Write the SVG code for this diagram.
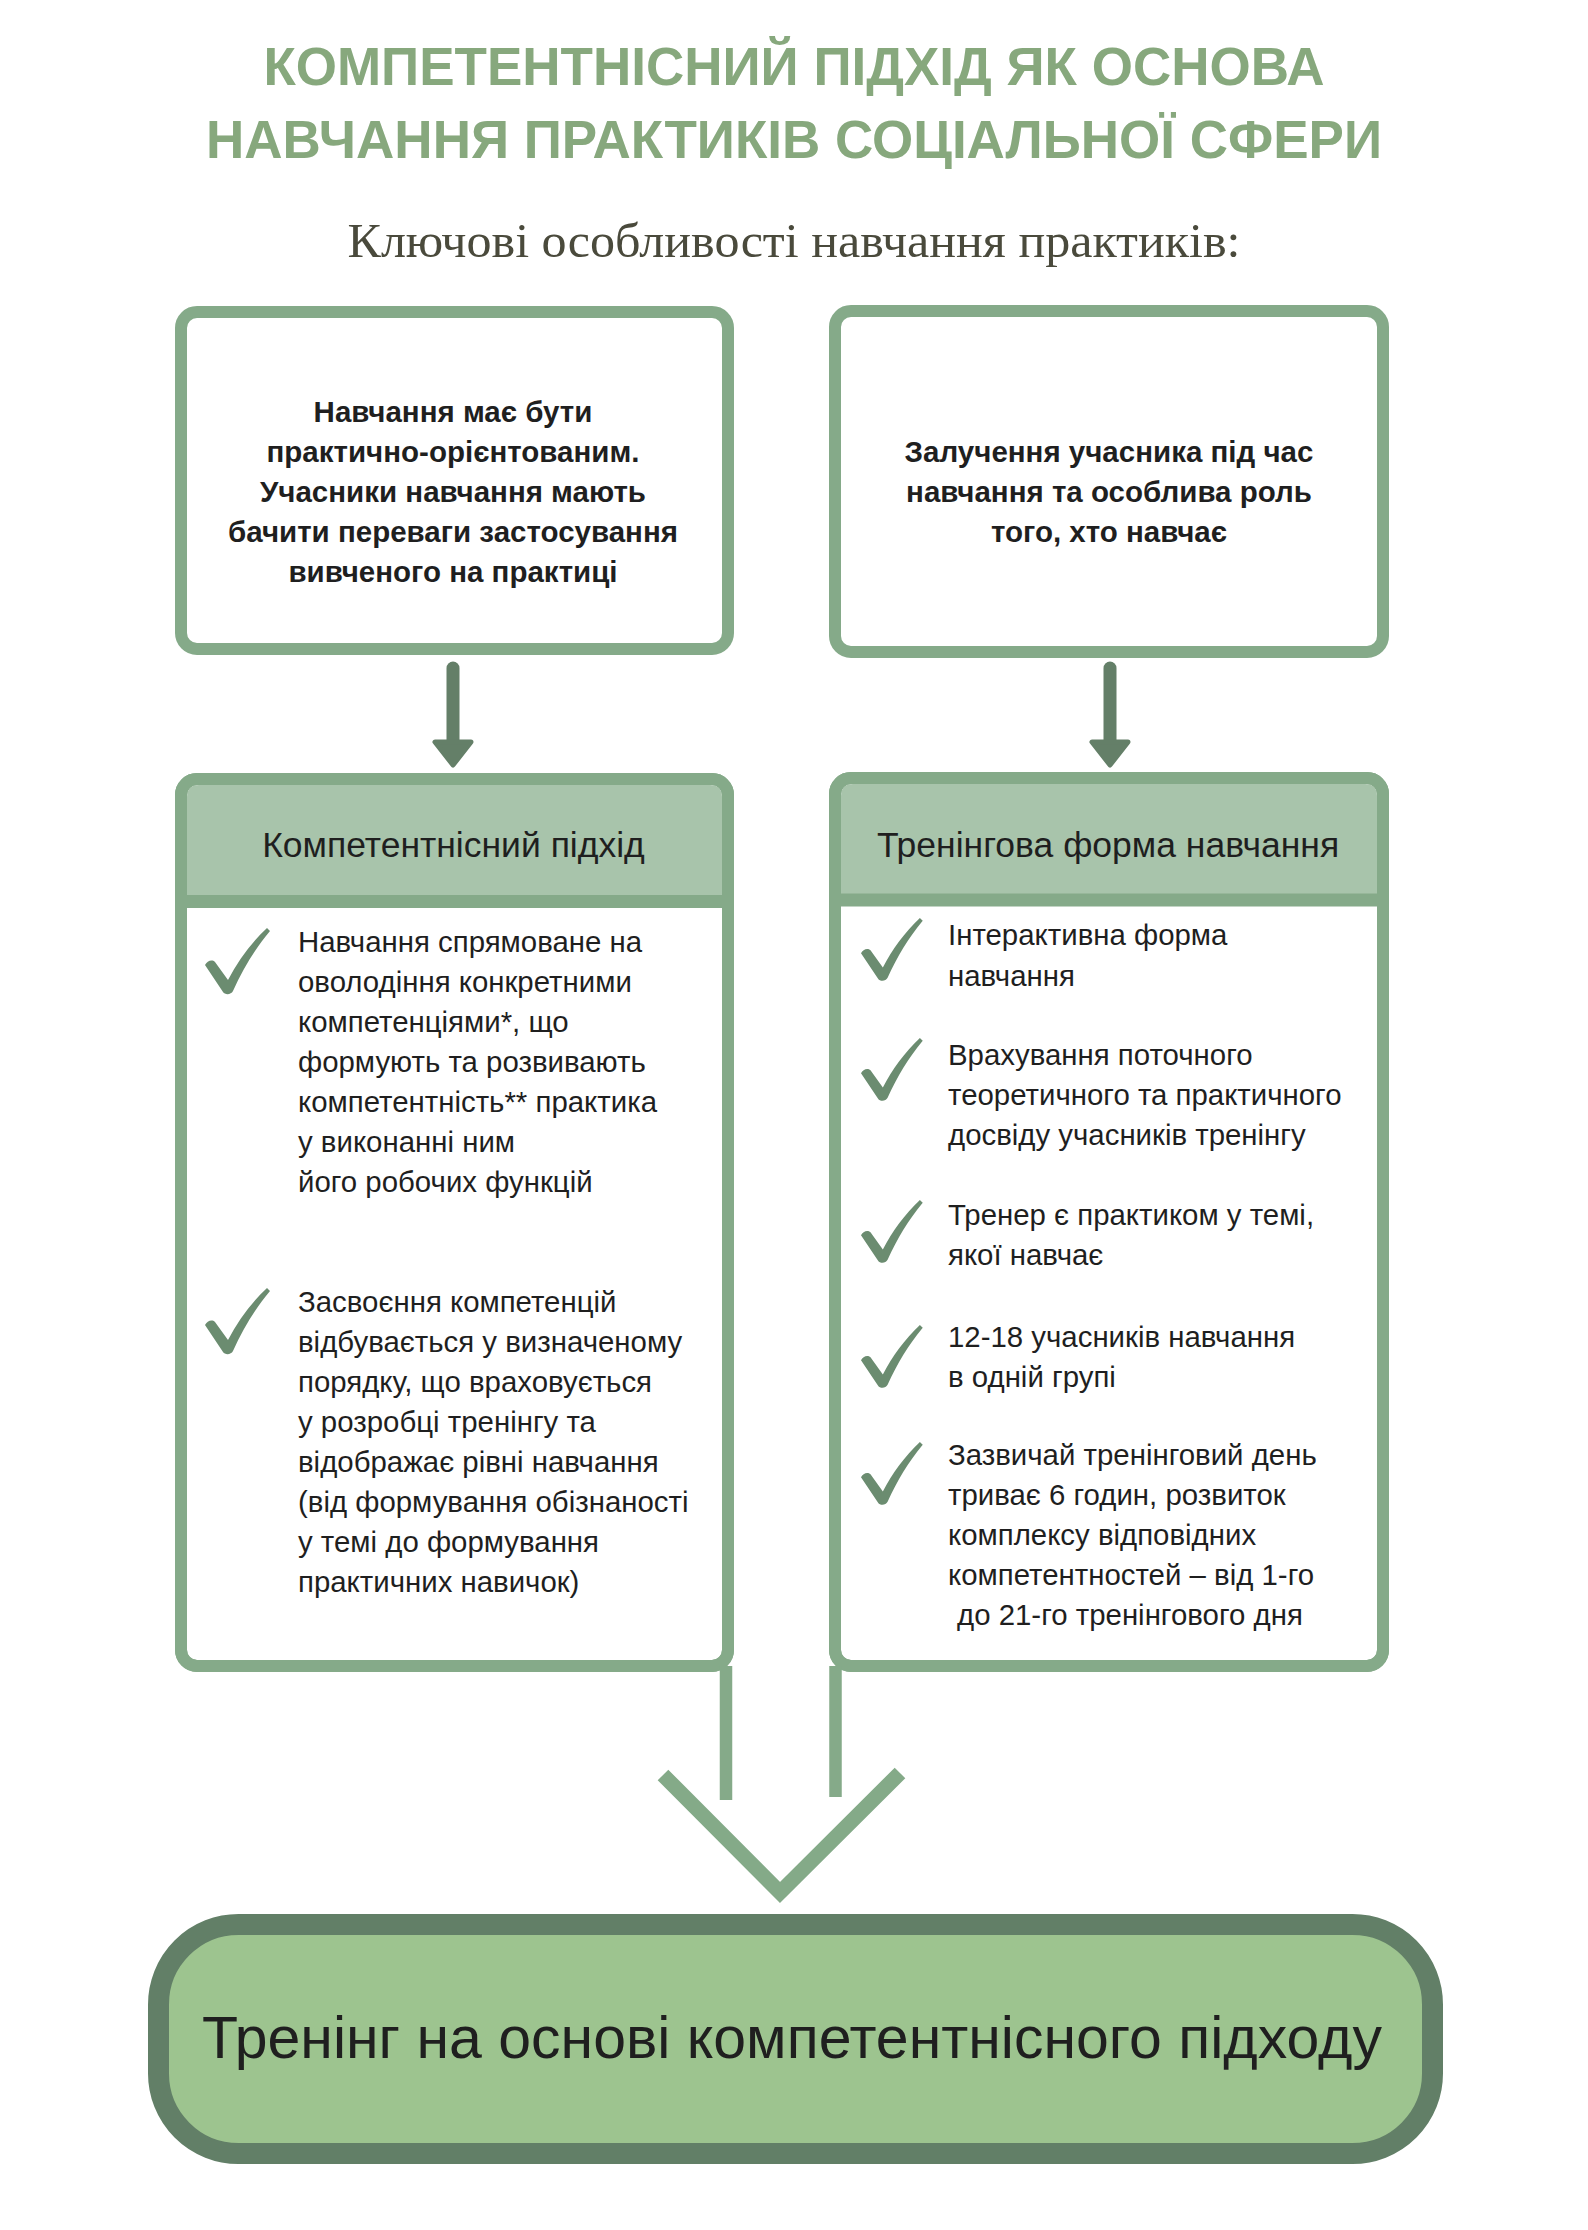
<svg xmlns="http://www.w3.org/2000/svg" width="1588" height="2230" viewBox="0 0 1588 2230">
<defs>
<style>
.title{font-family:"Liberation Sans",Arial,sans-serif;font-weight:bold;font-size:53px;fill:#87a87d;text-anchor:middle}
.sub{font-family:"Liberation Serif","Times New Roman",serif;font-size:49px;fill:#4a4a3c;text-anchor:middle}
.box{fill:#fff;stroke:#85aa89;stroke-width:12}
.frame{fill:none;stroke:#85aa89;stroke-width:12}
.bold{font-family:"Liberation Sans",Arial,sans-serif;font-weight:bold;font-size:29.5px;fill:#1f1f1f;text-anchor:middle}
.head{font-family:"Liberation Sans",Arial,sans-serif;font-size:35.5px;fill:#1f1f1f;text-anchor:middle}
.body{font-family:"Liberation Sans",Arial,sans-serif;font-size:29.4px;fill:#1f1f1f}
.hfill{fill:#a8c4ab}
.sep{stroke:#85aa89;stroke-width:13}
.arrow{stroke:#647f68;stroke-width:13;stroke-linecap:round;fill:none}
.ahead{fill:#647f68;stroke:#647f68;stroke-width:5;stroke-linejoin:round}
.conn{stroke:#85aa89;stroke-width:12.5;fill:none}
.chev{stroke:#84aa88;stroke-width:15;fill:none;stroke-linejoin:miter}
.check{fill:#6b8c70}
.big{font-family:"Liberation Sans",Arial,sans-serif;font-size:59px;fill:#1f1f1f;text-anchor:middle}
</style>
<path id="chk" d="M0,37 C2,33 7,31 10,34 L23,52 C33,33 46,15 62,0 L65,3 C50,21 38,41 28,63 C26,67 20,67 18,64 Z"/>
</defs>
<rect width="1588" height="2230" fill="#fff"/>

<g id="title">
<text class="title" x="794" y="85">КОМПЕТЕНТНІСНИЙ ПІДХІД ЯК ОСНОВА</text>
<text class="title" x="794" y="158">НАВЧАННЯ ПРАКТИКІВ СОЦІАЛЬНОЇ СФЕРИ</text>
<text class="sub" x="794" y="257" textLength="893" lengthAdjust="spacingAndGlyphs">Ключові особливості навчання практиків:</text>
</g>

<g id="node-practical">
<rect class="box" x="181" y="312" width="547" height="337" rx="16"/>
<text class="bold" x="453" y="422">Навчання має бути</text>
<text class="bold" x="453" y="462">практично-орієнтованим.</text>
<text class="bold" x="453" y="502">Учасники навчання мають</text>
<text class="bold" x="453" y="542">бачити переваги застосування</text>
<text class="bold" x="453" y="582">вивченого на практиці</text>
</g>

<g id="node-engagement">
<rect class="box" x="835" y="311" width="548" height="341" rx="16"/>
<text class="bold" x="1109" y="462">Залучення учасника під час</text>
<text class="bold" x="1109" y="502">навчання та особлива роль</text>
<text class="bold" x="1109" y="542">того, хто навчає</text>
</g>

<g id="node-competence">
<rect class="box" x="181" y="779" width="547" height="887" rx="16"/>
<path class="hfill" d="M187,797 Q187,785 199,785 L710,785 Q722,785 722,797 L722,901 L187,901 Z"/>
<line class="sep" x1="181" y1="901.5" x2="728" y2="901.5"/>
<rect class="frame" x="181" y="779" width="547" height="887" rx="16"/>
<text class="head" x="453.5" y="857">Компетентнісний підхід</text>
<use href="#chk" class="check" transform="translate(205,928)"/>
<text class="body" x="298" y="952">Навчання спрямоване на</text>
<text class="body" x="298" y="992">оволодіння конкретними</text>
<text class="body" x="298" y="1032">компетенціями*, що</text>
<text class="body" x="298" y="1072">формують та розвивають</text>
<text class="body" x="298" y="1112">компетентність** практика</text>
<text class="body" x="298" y="1152">у виконанні ним</text>
<text class="body" x="298" y="1192">його робочих функцій</text>
<use href="#chk" class="check" transform="translate(205,1288)"/>
<text class="body" x="298" y="1312">Засвоєння компетенцій</text>
<text class="body" x="298" y="1352">відбувається у визначеному</text>
<text class="body" x="298" y="1392">порядку, що враховується</text>
<text class="body" x="298" y="1432">у розробці тренінгу та</text>
<text class="body" x="298" y="1472">відображає рівні навчання</text>
<text class="body" x="298" y="1512">(від формування обізнаності</text>
<text class="body" x="298" y="1552">у темі до формування</text>
<text class="body" x="298" y="1592">практичних навичок)</text>
</g>

<g id="node-training">
<rect class="box" x="835" y="778" width="548" height="888" rx="16"/>
<path class="hfill" d="M841,796 Q841,784 853,784 L1365,784 Q1377,784 1377,796 L1377,900 L841,900 Z"/>
<line class="sep" x1="835" y1="900" x2="1383" y2="900"/>
<rect class="frame" x="835" y="778" width="548" height="888" rx="16"/>
<text class="head" x="1108" y="857">Тренінгова форма навчання</text>
<use href="#chk" class="check" transform="translate(861,918) scale(0.95)"/>
<text class="body" x="948" y="945">Інтерактивна форма</text>
<text class="body" x="948" y="986">навчання</text>
<use href="#chk" class="check" transform="translate(861,1038) scale(0.95)"/>
<text class="body" x="948" y="1065">Врахування поточного</text>
<text class="body" x="948" y="1105">теоретичного та практичного</text>
<text class="body" x="948" y="1145">досвіду учасників тренінгу</text>
<use href="#chk" class="check" transform="translate(861,1200) scale(0.95)"/>
<text class="body" x="948" y="1225">Тренер є практиком у темі,</text>
<text class="body" x="948" y="1265">якої навчає</text>
<use href="#chk" class="check" transform="translate(861,1325) scale(0.95)"/>
<text class="body" x="948" y="1347">12-18 учасників навчання</text>
<text class="body" x="948" y="1387">в одній групі</text>
<use href="#chk" class="check" transform="translate(861,1442) scale(0.95)"/>
<text class="body" x="948" y="1465">Зазвичай тренінговий день</text>
<text class="body" x="948" y="1505">триває 6 годин, розвиток</text>
<text class="body" x="948" y="1545">комплексу відповідних</text>
<text class="body" x="948" y="1585">компетентностей – від 1-го</text>
<text class="body" x="957" y="1625">до 21-го тренінгового дня</text>
</g>

<g id="connectors">
<line class="arrow" x1="453" y1="668" x2="453" y2="742"/>
<polygon class="ahead" points="435,742 471,742 453,765"/>
<line class="arrow" x1="1110" y1="668" x2="1110" y2="742"/>
<polygon class="ahead" points="1092,742 1128,742 1110,765"/>
<line class="conn" x1="726" y1="1666" x2="726" y2="1800"/>
<line class="conn" x1="835.5" y1="1666" x2="835.5" y2="1797"/>
<polyline class="chev" points="663,1775 780,1892.5 900,1773"/>
</g>

<g id="node-result">
<rect x="152" y="1929" width="1274" height="229" rx="80" fill="#9dc48f"/>
<rect x="158.5" y="1924.5" width="1274" height="229" rx="80" fill="#9dc48f" stroke="#627f67" stroke-width="21"/>
<text class="big" x="792" y="2058">Тренінг на основі компетентнісного підходу</text>
</g>
</svg>
